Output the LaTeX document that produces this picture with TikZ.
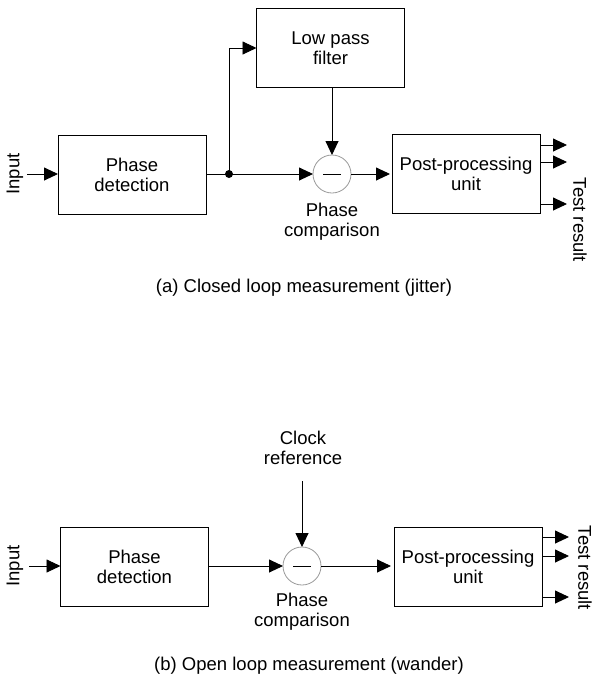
\documentclass[tikz,border=0pt]{standalone}
\usepackage{fontspec}
\setmainfont{Liberation Sans}
\usetikzlibrary{arrows.meta}
\begin{document}
\begin{tikzpicture}[x=1pt,y=-1pt,
  font=\fontsize{18.5}{20}\selectfont,
  every node/.style={inner sep=0pt, outer sep=0pt},
  box/.style={draw, line width=0.9pt, align=center, minimum width=148, minimum height=79},
  cmpc/.style={draw=black!40, line width=0.8pt, circle, minimum size=38},
  lbl/.style={align=center},
  conn/.style={line width=0.9pt, -{Triangle[length=14pt,width=13pt]}},
  plain/.style={line width=0.9pt}]
\useasboundingbox (0,0) rectangle (592,683);

% ---------- (a) closed loop ----------
\node[box] (pd1) at (132,175) {Phase\\detection};
\node[box] (lpf) at (330.5,48) {Low pass\\filter};
\node[cmpc] (cmp1) at (332,174) {};
\draw[line width=0.9pt] ([xshift=-9]cmp1.center) -- ([xshift=9]cmp1.center);
\node[box] (pp1) at (466,174) {Post-processing\\unit};
\node[rotate=90] (in1) at (15,174) {Input};
\coordinate (in1s) at (27,174);
\fill (229,174) circle (4) coordinate (dot);
\draw[conn] (in1s) -- (pd1.west |- in1s);
\draw[plain] (pd1.east |- dot) -- (dot);
\draw[conn] (dot) -- (cmp1.west);
\draw[conn] (dot) |- (lpf.west);
\draw[conn] (lpf.south -| cmp1) -- (cmp1.north);
\draw[conn, shorten >=2pt] (cmp1.east) -- (pp1.west |- cmp1);
\coordinate (o1a) at (567,145);
\coordinate (o1b) at (567,162);
\coordinate (o1c) at (567,204);
\draw[conn] (pp1.east |- o1a) -- (o1a);
\draw[conn] (pp1.east |- o1b) -- (o1b);
\draw[conn] (pp1.east |- o1c) -- (o1c);
\node[rotate=-90] (tr1) at (580,220) {Test result};
\node[lbl] (pc1) at (332,222) {Phase\\comparison};
\node (capa) at (304,288) {(a) Closed loop measurement (jitter)};

% ---------- (b) open loop ----------
\node[box] (pd2) at (134.5,567) {Phase\\detection};
\node[cmpc] (cmp2) at (302,566) {};
\draw[line width=0.9pt] ([xshift=-9]cmp2.center) -- ([xshift=9]cmp2.center);
\node[box] (pp2) at (468,567) {Post-processing\\unit};
\node[rotate=90] (in2) at (15,566) {Input};
\coordinate (in2s) at (29,566);
\node[lbl] (clk) at (303,448) {Clock\\reference};
\coordinate (clks) at (302,481);
\draw[conn] (in2s) -- (pd2.west |- in2s);
\draw[conn] (pd2.east |- cmp2) -- (cmp2.west);
\draw[conn] (clks) -- (cmp2.north);
\draw[conn, shorten >=3pt] (cmp2.east) -- (pp2.west |- cmp2);
\coordinate (o2a) at (569,537);
\coordinate (o2b) at (569,556);
\coordinate (o2c) at (569,597);
\draw[conn] (pp2.east |- o2a) -- (o2a);
\draw[conn] (pp2.east |- o2b) -- (o2b);
\draw[conn] (pp2.east |- o2c) -- (o2c);
\node[rotate=-90] (tr2) at (585,568) {Test result};
\node[lbl] (pc2) at (302,612) {Phase\\comparison};
\node (capb) at (309,666) {(b) Open loop measurement (wander)};
\end{tikzpicture}
\end{document}
